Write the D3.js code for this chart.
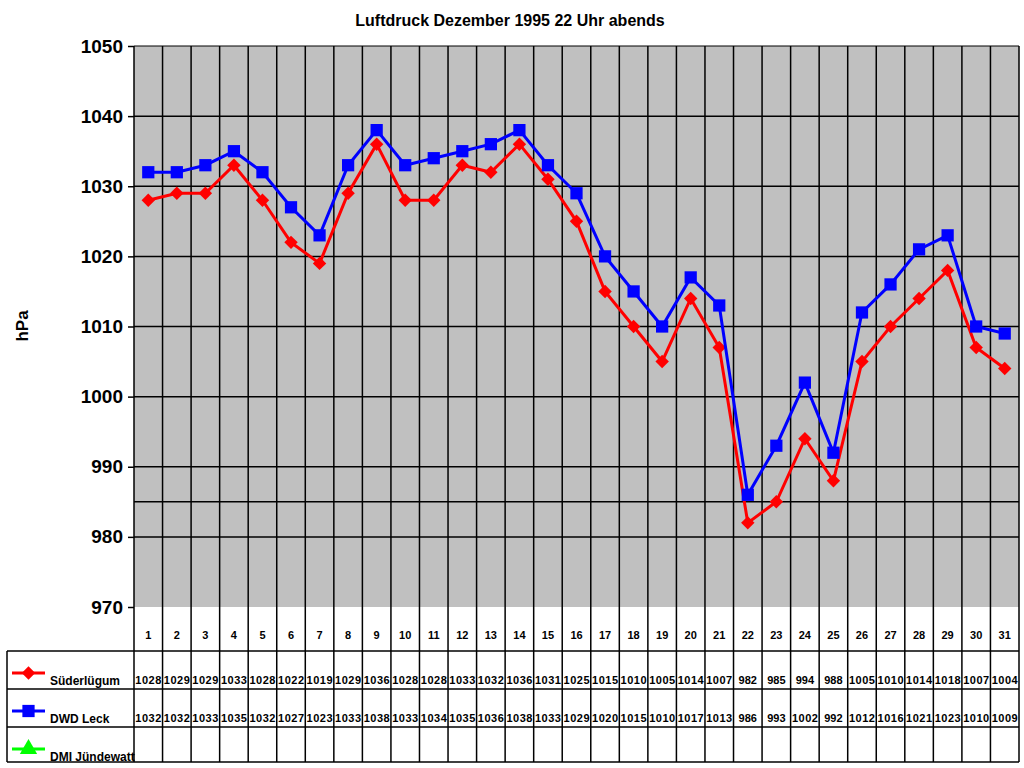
<!DOCTYPE html><html><head><meta charset="utf-8">
<script src="https://cdn.jsdelivr.net/npm/d3@7"></script>
<style>body{margin:0;background:#fff}text{font-family:Arial,"Liberation Sans",sans-serif}</style></head><body>
<svg id="c" width="1024" height="768"></svg>
<script>
const days = d3.range(1,32).map(String);
const suderlugum = [1028,1029,1029,1033,1028,1022,1019,1029,1036,1028,1028,1033,1032,1036,1031,1025,1015,1010,1005,1014,1007,982,985,994,988,1005,1010,1014,1018,1007,1004];
const dwdLeck = [1032,1032,1033,1035,1032,1027,1023,1033,1038,1033,1034,1035,1036,1038,1033,1029,1020,1015,1010,1017,1013,986,993,1002,992,1012,1016,1021,1023,1010,1009];
const dmiJundewatt = [];
const yTicks = [970,980,990,1000,1010,1020,1030,1040,1050];
const yGrid = [980,985,990,1000,1010,1020,1030,1040];
const series = [
 {name:"Süderlügum", color:"#ff0000", values:suderlugum, shape:"diamond"},
 {name:"DWD Leck", color:"#0000ff", values:dwdLeck, shape:"square"},
 {name:"DMI Jündewatt", color:"#00ff00", values:dmiJundewatt, shape:"triangle"}
];
function sym(s){
 if(s==="diamond") return d3.symbol().type(d3.symbolSquare).size(90)();
 if(s==="square") return d3.symbol().type(d3.symbolSquare).size(150)();
 return d3.symbol().type(d3.symbolTriangle).size(130)();
}
const rot=s=>s==="diamond"?" rotate(45)":"";
const svg = d3.select("#c");
const L=134,R=1019,T=46,B=607;
const x = d3.scaleBand().domain(days).range([L,R]);
const y = d3.scaleLinear().domain([970,1050]).range([B,T]);
svg.append("text").attr("x",510).attr("y",26).attr("text-anchor","middle").attr("font-size",16).attr("font-weight","bold").text("Luftdruck Dezember 1995 22 Uhr abends");
svg.append("rect").attr("x",L).attr("y",T).attr("width",R-L).attr("height",B-T).attr("fill","#c0c0c0");
const g=svg.append("g");
yGrid.forEach(v=>g.append("line").attr("x1",L).attr("x2",R).attr("y1",y(v)).attr("y2",y(v)).attr("stroke","#000").attr("stroke-width",1.5));
const rows=[607,651,689,727,762];
days.forEach(d=>g.append("line").attr("x1",x(d)).attr("x2",x(d)).attr("y1",T).attr("y2",rows[4]).attr("stroke","#000").attr("stroke-width",1.5));
g.append("line").attr("x1",R).attr("x2",R).attr("y1",T).attr("y2",rows[4]).attr("stroke","#000").attr("stroke-width",1.5);
g.append("line").attr("x1",L).attr("x2",R).attr("y1",T).attr("y2",T).attr("stroke","#000").attr("stroke-width",1);
[1,2,3,4].forEach(i=>g.append("line").attr("x1",7).attr("x2",R).attr("y1",rows[i]).attr("y2",rows[i]).attr("stroke","#000").attr("stroke-width",1.5));
g.append("line").attr("x1",7).attr("x2",7).attr("y1",rows[1]).attr("y2",rows[4]).attr("stroke","#000").attr("stroke-width",1.5);
const ax=svg.append("g").attr("transform",`translate(${L},0)`).call(d3.axisLeft(y).tickValues(yTicks).tickSize(6).tickFormat(d3.format("d")));
ax.select(".domain").remove();
ax.selectAll("line").attr("stroke","#000").attr("stroke-width",1.5);
ax.selectAll("text").attr("font-size",19).attr("font-weight","bold").attr("dx",-2).attr("fill","#000");
svg.append("text").attr("transform","translate(28,326) rotate(-90)").attr("text-anchor","middle").attr("font-size",17).attr("font-weight","bold").text("hPa");
const cx=d=>x(d)+x.bandwidth()/2;
series.forEach(s=>{
 if(!s.values.length) return;
 const line=d3.line().x((v,i)=>cx(days[i])).y(v=>y(v));
 svg.append("path").attr("d",line(s.values)).attr("fill","none").attr("stroke",s.color).attr("stroke-width",3);
 svg.selectAll(null).data(s.values).enter().append("path")
  .attr("transform",(v,i)=>`translate(${cx(days[i])},${y(v)})${rot(s.shape)}`)
  .attr("d",sym(s.shape)).attr("fill",s.color);
});
days.forEach(d=>svg.append("text").attr("x",cx(d)).attr("y",639).attr("text-anchor","middle").attr("font-size",11).attr("font-weight","bold").text(d));
series.forEach((s,r)=>{
 const yy=rows[r+1];
 svg.append("line").attr("x1",12).attr("x2",45).attr("y1",yy+22).attr("y2",yy+22).attr("stroke",s.color).attr("stroke-width",3);
 svg.append("path").attr("transform",`translate(28.5,${yy+22})${rot(s.shape)}`).attr("d",sym(s.shape)).attr("fill",s.color);
 svg.append("text").attr("x",50).attr("y",yy+34).attr("font-size",12).attr("font-weight","bold").text(s.name);
 s.values.forEach((v,i)=>svg.append("text").attr("x",cx(days[i])).attr("y",yy+33).attr("text-anchor","middle").attr("font-size",11).attr("font-weight","bold").attr("textLength",v>=1000?26:null).text(v));
});
</script></body></html>
